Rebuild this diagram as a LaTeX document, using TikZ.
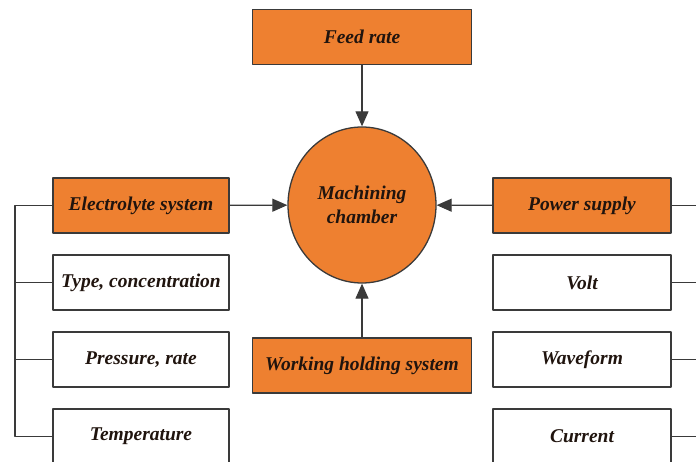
\documentclass[tikz,border=0pt]{standalone}
\usepackage{fontspec}
\setmainfont{Liberation Serif}
\usetikzlibrary{arrows.meta, shapes, positioning}
\usepackage{xcolor}
\definecolor{chamberorange}{RGB}{238,128,48}
\definecolor{darkline}{RGB}{58,58,58}
\definecolor{darktext}{RGB}{32,20,14}
\tikzset{orangebox/.style={rectangle, fill=chamberorange, draw=darkline, line width=1.3pt, minimum height=55pt, inner xsep=1pt, text=darktext, font=\fontsize{19.5}{24}\selectfont\bfseries\itshape},
whitebox/.style={rectangle, fill=white, draw=darkline, line width=1.3pt, minimum height=55pt, inner xsep=1pt, text=darktext, font=\fontsize{19.5}{24}\selectfont\bfseries\itshape}}

\begin{document}
\begin{tikzpicture}[
        x=1pt, y=1pt,
        line join=bevel,
        chamberellipse/.style={ellipse, fill=chamberorange, draw=darkline, line width=1.3pt, minimum width=148pt, minimum height=156pt, inner sep=0pt, align=center, text=darktext, font=\fontsize{19.5}{24}\selectfont\bfseries\itshape},
        link/.style={draw=darkline, line width=1.1pt},
        inputarrow/.style={link, -{Triangle[length=15pt, width=13pt]}}
    ]
        \useasboundingbox (0pt, 0pt) rectangle (696pt, 461pt);
        \clip (0pt, 0pt) rectangle (696pt, 461pt);
        % Centre
        \node[chamberellipse] (chamber) at (362pt, 256pt) {Machining\\chamber};
        \node[orangebox, minimum width=219pt] (feed) at (362pt, 424pt) {Feed rate};
        \node[orangebox, minimum width=219pt] (work) at (362pt, 95.5pt) {Working holding system};
        % Left column
        \node[orangebox, minimum width=176pt] (elec) at (141pt, 255.5pt) {Electrolyte system};
        \node[whitebox, minimum width=176pt, below=20.7pt of elec] (type) {Type, concentration};
        \node[whitebox, minimum width=176pt, below=20.7pt of type] (press) {Pressure, rate};
        \node[whitebox, minimum width=176pt, below=20.7pt of press] (temp) {Temperature};
        % Right column
        \node[orangebox, minimum width=178pt] (power) at (582pt, 255.5pt) {Power supply};
        \node[whitebox, minimum width=178pt, below=20.7pt of power] (volt) {Volt};
        \node[whitebox, minimum width=178pt, below=20.7pt of volt] (wave) {Waveform};
        \node[whitebox, minimum width=178pt, below=20.7pt of wave] (curr) {Current};
        % Arrows
        \draw[inputarrow] (feed) -- (chamber);
        \draw[inputarrow] (work) -- (chamber);
        \draw[inputarrow] (elec) -- (chamber);
        \draw[inputarrow] (power) -- (chamber);
        % Brackets
        \coordinate (leftbus) at (15pt, 255.5pt);
        \coordinate (rightbus) at (700pt, 255.5pt);
        \draw[link] (elec.west) -- (leftbus) |- (temp.west);
        \foreach \n in {type, press} {
            \draw[link] (\n.west) -- (\n.west -| leftbus);
        }
        \foreach \n in {power, volt, wave, curr} {
            \draw[link] (\n.east) -- (\n.east -| rightbus);
        }
    \end{tikzpicture}
\end{document}
